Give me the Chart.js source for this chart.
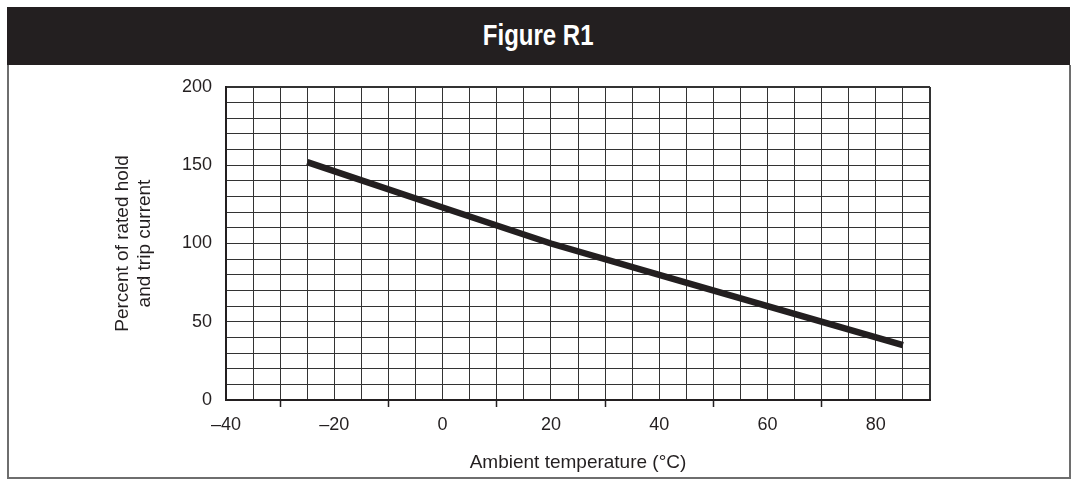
<!DOCTYPE html>
<html>
<head>
<meta charset="utf-8">
<script src="https://cdn.jsdelivr.net/npm/chart.js@4"></script>
<style>
  body { margin: 0; background: #fff; width: 1076px; height: 481px; overflow: hidden; position: relative; }
  #header {
    position: absolute; left: 7px; top: 7px; width: 1063px; height: 58px;
    background: #231f20; color: #fff; text-align: center;
    font-family: "Liberation Sans", Arial, sans-serif;
    font-weight: bold; font-size: 30px; line-height: 56px;
  }
  #header span { display: inline-block; transform: scaleX(0.8); }
  #box {
    position: absolute; left: 7px; top: 65px; width: 1060px; height: 412px;
    border: 2px solid #6e6e6e; border-top: none;
  }
  #wrap { position: absolute; left: 0; top: 0; width: 1076px; height: 481px; }
</style>
</head>
<body>
<div id="header"><span>Figure R1</span></div>
<div id="box"></div>
<div id="wrap"><canvas id="r1Chart"></canvas></div>
<script>
// curve
const temps = [-25, 0, 20, 40, 60, 85];
const percent = [152, 123, 100, 80, 60, 35];

const xMin = -40, xMax = 90;
const yMin = 0, yMax = 200;

const xTitle = "Ambient temperature (\u00B0C)";
const yTitle = ["Percent of rated hold", "and trip current"];

const gridColor = "#333";
const edgeColor = "#231f20";
const font = "'Liberation Sans', Arial, sans-serif";

function dash(v) {
  return v < 0 ? "\u2013" + Math.abs(v) : String(v);
}

const ctx = document.getElementById("r1Chart").getContext("2d");
const chart = new Chart(ctx, {
  type: "line",
  data: {
    datasets: [{
      data: temps.map((t, i) => ({ x: t, y: percent[i] })),
      borderColor: "#231f20",
      borderWidth: 6.5,
      pointRadius: 0,
      tension: 0,
      fill: false
    }]
  },
  options: {
    responsive: true,
    maintainAspectRatio: false,
    animation: false,
    layout: { padding: { left: 100, top: 87, right: 146, bottom: 4 } },
    plugins: { legend: { display: false }, tooltip: { enabled: false } },
    scales: {
      x: {
        type: "linear",
        min: xMin,
        max: xMax,
        afterFit: s => { s.height = 77; },
        border: { display: true, color: edgeColor, width: 2 },
        grid: {
          color: gridColor,
          lineWidth: c => (c.tick && (c.tick.value === xMin || c.tick.value === xMax)) ? 2 : 1,
          drawTicks: true,
          tickLength: 7,
          tickColor: c => (c.tick && Math.abs(c.tick.value) % 20 === 10 && c.tick.value < xMax) ? edgeColor : "rgba(0,0,0,0)",
          tickWidth: 1.5
        },
        ticks: {
          stepSize: 5,
          autoSkip: false,
          maxRotation: 0,
          padding: 7,
          color: "#231f20",
          font: { family: font, size: 18 },
          callback: v => (v % 20 === 0 ? dash(v) : "")
        },
        title: {
          display: true,
          text: xTitle,
          color: "#231f20",
          font: { family: font, size: 19 },
          padding: { top: 0, bottom: 3 }
        }
      },
      y: {
        min: yMin,
        max: yMax,
        afterFit: s => { s.width = 126; },
        border: { display: true, color: edgeColor, width: 2 },
        grid: {
          color: gridColor,
          lineWidth: c => (c.tick && (c.tick.value === yMin || c.tick.value === yMax)) ? 2 : 1,
          drawTicks: false
        },
        ticks: {
          stepSize: 10,
          autoSkip: false,
          padding: 14,
          color: "#231f20",
          font: { family: font, size: 18 },
          callback: v => (v % 50 === 0 ? String(v) : "")
        },
        title: {
          display: true,
          text: yTitle,
          color: "#231f20",
          font: { family: font, size: 19 },
          padding: { top: 11, bottom: 0 }
        }
      }
    }
  }
});
</script>
</body>
</html>
